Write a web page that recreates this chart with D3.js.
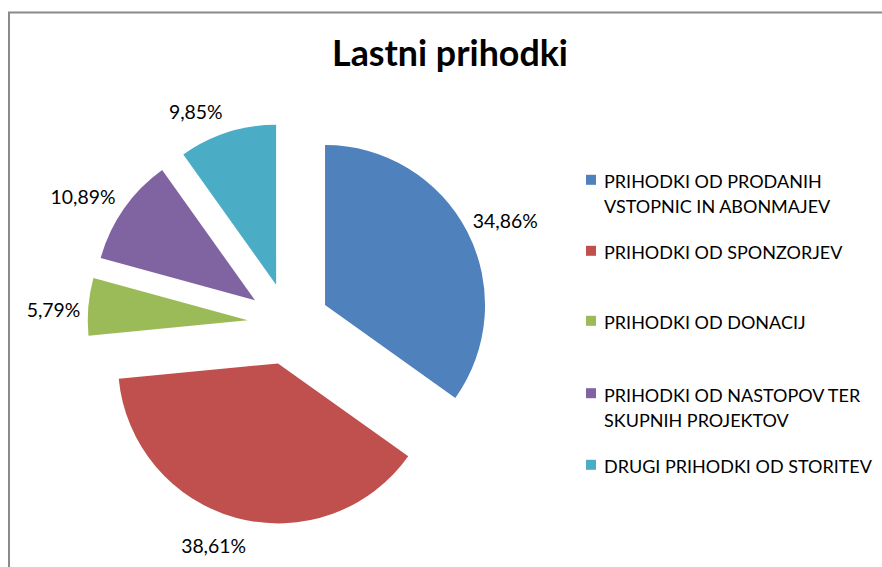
<!DOCTYPE html>
<html>
<head>
<meta charset="utf-8">
<script src="https://cdn.jsdelivr.net/npm/d3@7"></script>
<style>
  html, body { margin: 0; padding: 0; background: #fff; }
  svg { display: block; }
</style>
</head>
<body>
<svg id="chart" width="882" height="567"></svg>
<script>
// ---- data ----
const title = "Lastni prihodki";
const categories = [
  "PRIHODKI OD PRODANIH VSTOPNIC IN ABONMAJEV",
  "PRIHODKI OD SPONZORJEV",
  "PRIHODKI OD DONACIJ",
  "PRIHODKI OD NASTOPOV TER SKUPNIH PROJEKTOV",
  "DRUGI PRIHODKI OD STORITEV"
];
const legendLines = [
  ["PRIHODKI OD PRODANIH", "VSTOPNIC IN ABONMAJEV"],
  ["PRIHODKI OD SPONZORJEV"],
  ["PRIHODKI OD DONACIJ"],
  ["PRIHODKI OD NASTOPOV TER", "SKUPNIH PROJEKTOV"],
  ["DRUGI PRIHODKI OD STORITEV"]
];
const values = [34.86, 38.61, 5.79, 10.89, 9.85];
const colors = ["#4F81BD", "#C0504D", "#9BBB59", "#8064A2", "#4BACC6"];

// ---- layout ----
const FONT = "Lato, 'Open Sans', sans-serif";
const svg = d3.select("#chart");
const cx = 288.6, cy = 323.8, R = 160, explode = 41;
// label placement: angle nudge (deg) from slice bisector and distance from pie centre
const labelNudge = [1.75, 3.7, -1.5, -3.1, -5.9];
const labelDist = [240, 234, 235.5, 242, 231.6];

// frame
svg.append("rect")
  .attr("x", 9).attr("y", 12.5)
  .attr("width", 1000).attr("height", 1000)
  .attr("fill", "none").attr("stroke", "#8a8a8a").attr("stroke-width", 2);

// helper to fit font size by target width
function fitSize(sample, target, weight) {
  const t = svg.append("text").attr("font-family", FONT)
    .attr("font-size", 20).attr("font-weight", weight || "normal").text(sample);
  const w = t.node().getComputedTextLength();
  t.remove();
  return 20 * target / w;
}

// title
const titleSize = fitSize(title, 236, "bold");
svg.append("text")
  .attr("x", 450).attr("y", 66)
  .attr("text-anchor", "middle")
  .attr("font-family", FONT).attr("font-weight", "bold")
  .attr("font-size", titleSize)
  .attr("fill", "#000")
  .text(title);

// pie
const pie = d3.pie().sort(null).value(d => d).startAngle(0).endAngle(2 * Math.PI);
const arcs = pie(values);
const arc = d3.arc().innerRadius(0).outerRadius(R);

const g = svg.append("g").attr("transform", `translate(${cx},${cy})`);
arcs.forEach((a, i) => {
  const mid = (a.startAngle + a.endAngle) / 2;
  const dx = Math.sin(mid) * explode, dy = -Math.cos(mid) * explode;
  g.append("path")
    .attr("d", arc(a))
    .attr("transform", `translate(${dx},${dy})`)
    .attr("fill", colors[i]);
});

// labels
const labelSize = fitSize("34,86%", 65);
const fmt = v => v.toFixed(2).replace(".", ",") + "%";
arcs.forEach((a, i) => {
  const mid = (a.startAngle + a.endAngle) / 2 + labelNudge[i] * Math.PI / 180;
  const x = Math.sin(mid) * labelDist[i], y = -Math.cos(mid) * labelDist[i];
  g.append("text")
    .attr("x", x).attr("y", y)
    .attr("text-anchor", "middle")
    .attr("dominant-baseline", "central")
    .attr("font-family", FONT)
    .attr("font-size", labelSize)
    .attr("fill", "#000")
    .text(fmt(values[i]));
});

// legend
const legSize = fitSize("DRUGI PRIHODKI OD STORITEV", 268);
const legBaselines = [[188.3, 213.3], [259.3], [329.3], [401.7, 426.7], [473.3]];
legendLines.forEach((lines, i) => {
  const b0 = legBaselines[i][0];
  svg.append("rect")
    .attr("x", 586).attr("y", b0 - 13.5)
    .attr("width", 10).attr("height", 10)
    .attr("fill", colors[i]);
  lines.forEach((ln, j) => {
    svg.append("text")
      .attr("x", 604).attr("y", legBaselines[i][j])
      .attr("font-family", FONT)
      .attr("font-size", legSize)
      .attr("fill", "#000")
      .text(ln);
  });
});
</script>
</body>
</html>
